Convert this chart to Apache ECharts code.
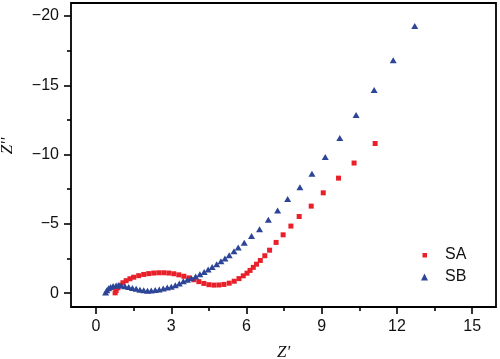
<!DOCTYPE html>
<html>
<head>
<meta charset="utf-8">
<script src="https://cdn.jsdelivr.net/npm/echarts@6/dist/echarts.min.js"></script>
<style>html,body{margin:0;padding:0;background:#fff}#c{width:500px;height:359px}</style>
</head>
<body>
<div id="c"></div>
<script>
const saZre = [11.13,10.29,9.67,9.06,8.58,8.10,7.77,7.46,7.18,6.92,6.73,6.55,6.40,6.27,6.14,6.02,5.87,5.70,5.51,5.31,5.10,4.90,4.70,4.50,4.30,4.10,3.90,3.70,3.50,3.30,3.10,2.90,2.70,2.50,2.30,2.10,1.90,1.70,1.50,1.35,1.20,1.07,0.96,0.87,0.80,0.76];
const saZim = [-10.8,-9.39,-8.3,-7.24,-6.28,-5.53,-4.84,-4.21,-3.66,-3.1,-2.7,-2.36,-2.09,-1.86,-1.64,-1.44,-1.25,-1.05,-0.86,-0.72,-0.63,-0.59,-0.58,-0.61,-0.70,-0.83,-0.97,-1.10,-1.22,-1.32,-1.40,-1.45,-1.47,-1.47,-1.45,-1.41,-1.35,-1.26,-1.15,-1.04,-0.90,-0.75,-0.57,-0.38,-0.18,-0.02];
const sbZre = [12.71,11.85,11.09,10.37,9.72,9.14,8.61,8.13,7.64,7.24,6.87,6.52,6.20,5.91,5.67,5.50,5.31,5.14,4.98,4.81,4.63,4.47,4.31,4.14,3.97,3.80,3.64,3.48,3.32,3.16,3.00,2.84,2.68,2.52,2.36,2.20,2.05,1.90,1.75,1.60,1.45,1.30,1.15,1.00,0.90,0.80,0.68,0.58,0.50,0.43,0.38];
const sbZim = [-19.28,-16.8,-14.66,-12.85,-11.2,-9.82,-8.62,-7.65,-6.79,-5.96,-5.3,-4.62,-4.12,-3.63,-3.3,-3.03,-2.74,-2.5,-2.31,-2.09,-1.88,-1.70,-1.53,-1.36,-1.20,-1.07,-0.96,-0.85,-0.70,-0.57,-0.47,-0.40,-0.33,-0.27,-0.22,-0.19,-0.18,-0.20,-0.25,-0.31,-0.38,-0.44,-0.50,-0.55,-0.57,-0.56,-0.52,-0.45,-0.35,-0.20,-0.05];
const xTicks = [0,3,6,9,12,15];
const xMinor = [1.5,4.5,7.5,10.5,13.5];
const yTicks = [0,-5,-10,-15,-20];
const yMinor = [-2.5,-7.5,-12.5,-17.5];

const pairs = (a,b) => a.map((v,i)=>[v,b[i]]);
const RED = '#e8202a', BLUE = '#2c4596';
const lblFont = {fontFamily:'Liberation Sans, Arial, sans-serif', fontSize:16, color:'#111'};
const fmt = v => (v < 0 ? '\u2212' + Math.abs(v) : String(v));

const xBase = {type:'value', min:-1, max:15.95, splitLine:{show:false}, axisLine:{show:false, onZero:false}};
const yBase = {type:'value', inverse:true, min:-20.94, max:1.0, splitLine:{show:false}, axisLine:{show:false, onZero:false}};

const chart = echarts.init(document.getElementById('c'), null, {renderer:'canvas'});
chart.setOption({
  animation:false,
  backgroundColor:'#fff',
  grid:{left:71, top:3, right:4, bottom:52, show:true, borderColor:'#000', borderWidth:1.8, backgroundColor:'transparent', containLabel:false, outerBoundsMode:'none'},
  xAxis:[
    Object.assign({}, xBase, {
      position:'bottom',
      name:"Z'", nameLocation:'middle', nameGap:37,
      nameTextStyle:{fontFamily:'Liberation Serif, Times New Roman, serif', fontStyle:'italic', fontSize:17, color:'#111'},
      axisTick:{show:true, inside:false, length:7, customValues:xTicks, lineStyle:{color:'#000', width:1.6}},
      axisLabel:Object.assign({customValues:xTicks, margin:12, formatter:fmt}, lblFont)
    }),
    Object.assign({}, xBase, {
      position:'bottom', offset:0,
      axisTick:{show:true, inside:false, length:4, customValues:xMinor, lineStyle:{color:'#000', width:1.6}},
      axisLabel:{show:false}
    })
  ],
  yAxis:[
    Object.assign({}, yBase, {
      position:'left',
      name:"Z''", nameLocation:'middle', nameGap:55,
      nameTextStyle:{fontFamily:'Liberation Serif, Times New Roman, serif', fontStyle:'italic', fontSize:17, color:'#111', padding:[0,0,0,18]},
      axisTick:{show:true, inside:false, length:7, customValues:yTicks, lineStyle:{color:'#000', width:1.6}},
      axisLabel:Object.assign({customValues:yTicks, margin:12, formatter:fmt}, lblFont)
    }),
    Object.assign({}, yBase, {
      position:'left', offset:0,
      axisTick:{show:true, inside:false, length:4, customValues:yMinor, lineStyle:{color:'#000', width:1.6}},
      axisLabel:{show:false}
    })
  ],
  legend:{
    orient:'vertical', left:416, top:242, itemWidth:7, itemHeight:7, itemGap:6,
    textStyle:{fontFamily:'Liberation Sans, Arial, sans-serif', fontSize:16, color:'#111', lineHeight:16, padding:[0,0,0,12]},
    data:[
      {name:'SA', icon:'path://M0,0M7,7M1.5,1.5h4.5v4.5h-4.5z'},
      {name:'SB', icon:'triangle'}
    ]
  },
  series:[
    {name:'SA', type:'scatter', symbol:'rect', symbolSize:5, itemStyle:{color:RED, opacity:1}, data:pairs(saZre, saZim)},
    {name:'SB', type:'scatter', symbol:'triangle', symbolSize:[7,6], itemStyle:{color:BLUE, opacity:1}, data:pairs(sbZre, sbZim)}
  ]
});
</script>
</body>
</html>
